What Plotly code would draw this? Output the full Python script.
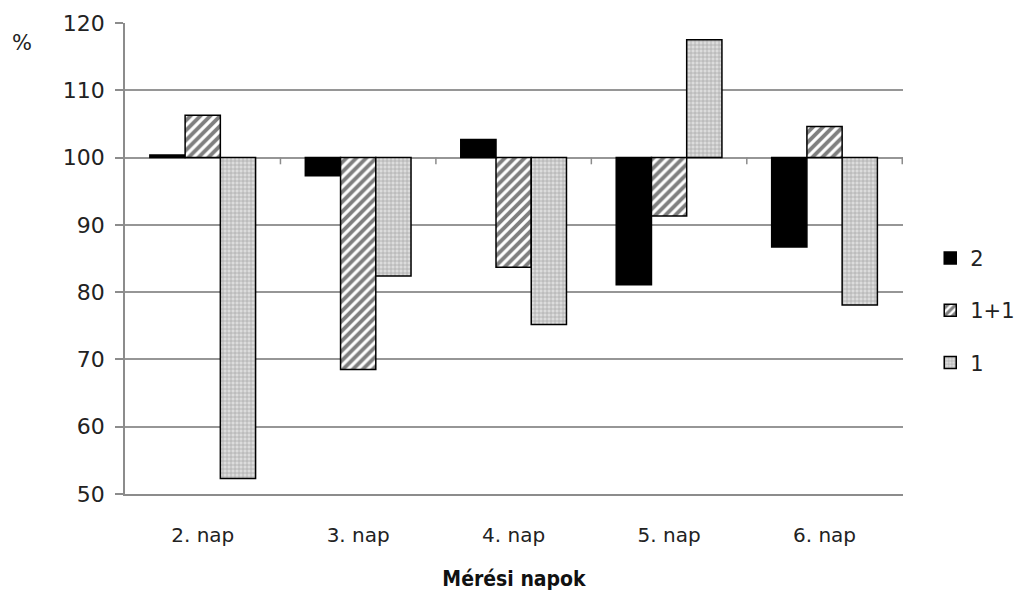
import plotly.graph_objects as go

# Measurement days and relative values (%), baseline 100
days = ["2. nap", "3. nap", "4. nap", "5. nap", "6. nap"]
series_names = ["2", "1+1", "1"]
vals_2 = [100.4, 97.3, 102.7, 81.1, 86.7]
vals_11 = [106.3, 68.5, 83.7, 91.3, 104.6]
vals_1 = [52.3, 82.4, 75.2, 117.5, 78.1]
baseline = 100
y_ticks = [50, 60, 70, 80, 90, 100, 110, 120]

styles = [
    dict(color="black", pattern=None),
    dict(color="white", pattern=dict(shape="/", fgcolor="black", bgcolor="white",
                                     size=7, solidity=0.55)),
    dict(color="#d0d0d0", pattern=dict(shape="+", fgcolor="#7a7a7a", bgcolor="#dcdcdc",
                                       size=4, solidity=0.35)),
]

fig = go.Figure()
for name, vals, st in zip(series_names, [vals_2, vals_11, vals_1], styles):
    marker = dict(color=st["color"], line=dict(color="black", width=1.5))
    if st["pattern"]:
        marker["pattern"] = st["pattern"]
    fig.add_trace(go.Bar(
        x=days, y=[v - baseline for v in vals], base=baseline, name=name,
        marker=marker, legendgroup=name,
        customdata=vals, hovertemplate="%{x}: %{customdata}<extra>" + name + "</extra>",
    ))

# small tick marks on the 100 line between categories
for i in range(len(days)):
    fig.add_shape(type="line", xref="x", yref="y", x0=i + 0.5, x1=i + 0.5,
                  y0=baseline, y1=baseline - 1.0, line=dict(color="#8c8c8c", width=1.5))

fig.add_annotation(text="%", xref="paper", yref="paper", x=-0.132, y=0.958,
                   xanchor="center", yanchor="middle", showarrow=False,
                   font=dict(family="DejaVu Sans", size=21, color="#222"))

fig.update_layout(
    width=1018, height=592,
    margin=dict(l=125, r=115, t=23, b=98, autoexpand=False),
    paper_bgcolor="white", plot_bgcolor="white",
    barmode="group", bargap=0.32, bargroupgap=0,
    showlegend=True,
    legend=dict(x=1.035, y=0.39, xanchor="left", yanchor="middle",
                font=dict(family="DejaVu Sans", size=21, color="#222"),
                tracegroupgap=22, itemwidth=30, bgcolor="rgba(0,0,0,0)"),
    xaxis=dict(
        showgrid=False, showline=True, linecolor="#8c8c8c", linewidth=1.5,
        ticks="", ticklabelstandoff=22,
        tickfont=dict(family="DejaVu Sans", size=20, color="#222"),
        title=dict(text="<b>Mérési napok</b>", standoff=26,
                   font=dict(family="DejaVu Sans Condensed, DejaVu Sans", size=21, color="#111")),
    ),
    yaxis=dict(
        range=[50, 120], tickvals=y_ticks, showgrid=True, gridcolor="#969696", gridwidth=1.5,
        showline=True, linecolor="#8c8c8c", linewidth=1.5,
        ticks="outside", ticklen=8, tickcolor="#8c8c8c", tickwidth=1.5,
        ticklabelstandoff=6, zeroline=False,
        tickfont=dict(family="DejaVu Sans", size=22, color="#222"),
    ),
)

fig.write_html("out.html")
